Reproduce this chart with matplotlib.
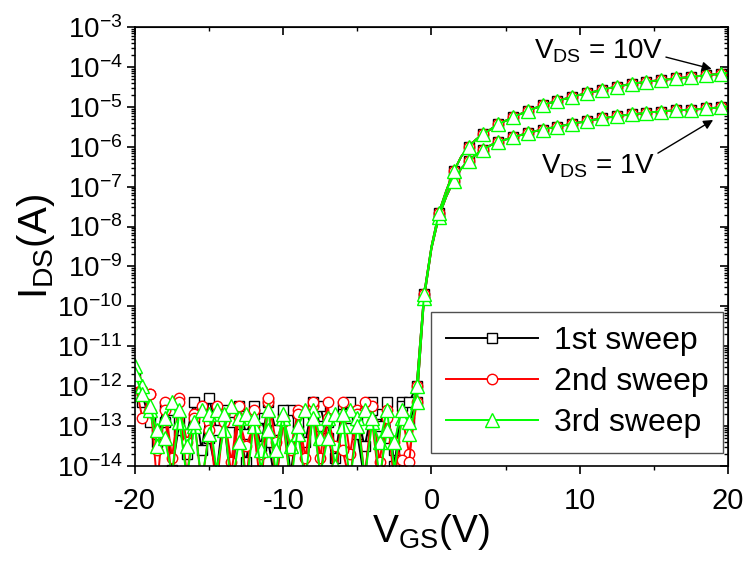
import matplotlib
matplotlib.use('Agg')
import matplotlib.pyplot as plt
import numpy as np

plt.rcParams['font.family'] = ['Liberation Sans', 'DejaVu Sans']
plt.rcParams['mathtext.fontset'] = 'custom'
plt.rcParams['mathtext.rm'] = 'Liberation Sans'
plt.rcParams['mathtext.it'] = 'Liberation Sans'
plt.rcParams['axes.unicode_minus'] = False

# gate voltage sweep (V)
vgs_off = np.arange(-20, -1.0, 0.5)      # -20 ... -1.5
vgs_on = np.arange(-1.0, 20.5, 0.5)      # -1 ... 20

# log10(I_DS) in the off state, per sweep and V_DS
off_s1_v1 = [-12.0, -12.4, -12.7, -13.4, -12.9, -12.6, -13.1, -13.7, -12.8, -12.5,
             -13.3, -14.2, -12.6, -12.9, -13.2, -13.9, -12.5, -12.8, -13.4, -14.5,
             -12.8, -12.6, -13.1, -14.3, -12.7, -12.5, -13.3, -13.8, -12.5, -12.8,
             -13.2, -14.4, -12.4, -12.7, -13.3, -13.6, -12.4, -12.9]
off_s1_v10 = [-11.8, -12.2, -12.9, -13.2, -12.5, -14.1, -12.9, -13.2, -12.4, -13.6,
              -12.3, -13.1, -12.8, -14.6, -12.5, -13.2, -12.7, -13.5, -12.4, -13.1,
              -12.6, -14.2, -12.9, -13.4, -12.4, -13.0, -12.9, -14.5, -12.7, -12.4,
              -12.8, -13.5, -12.6, -13.0, -12.4, -14.0, -12.5, -12.4]
off_s2_v1 = [-11.8, -12.1, -12.2, -14.5, -12.4, -13.8, -12.3, -14.3, -12.7, -12.5,
             -12.9, -14.6, -12.7, -13.9, -12.5, -14.4, -12.6, -13.7, -12.4, -14.5,
             -12.8, -13.6, -12.6, -14.4, -12.5, -13.8, -12.4, -14.6, -12.4, -13.7,
             -12.6, -14.3, -12.5, -13.9, -12.6, -14.5, -12.7, -13.7]
off_s2_v10 = [-11.9, -12.8, -12.2, -13.6, -12.6, -14.4, -12.4, -13.4, -12.8, -14.5,
              -13.1, -12.5, -12.9, -14.2, -12.8, -13.5, -13.0, -14.6, -12.3, -13.4,
              -12.9, -14.5, -12.7, -13.8, -12.4, -14.3, -12.8, -13.5, -13.6, -14.4,
              -12.7, -12.4, -12.9, -14.5, -12.8, -13.4, -13.85, -13.9]
off_s3_v1 = [-11.5, -12.0, -12.6, -13.5, -12.8, -12.4, -12.9, -14.3, -13.0, -12.6,
             -12.7, -14.1, -13.1, -12.5, -12.8, -14.5, -13.0, -13.6, -12.6, -14.2,
             -12.8, -13.5, -13.2, -14.4, -12.6, -13.3, -12.8, -14.0, -13.0, -12.6,
             -12.8, -14.3, -12.9, -13.4, -12.6, -14.1, -12.8, -13.2]
off_s3_v10 = [-11.7, -12.2, -12.5, -13.1, -13.3, -14.2, -12.6, -13.5, -12.9, -14.4,
              -13.2, -12.6, -12.7, -14.6, -13.4, -12.7, -12.8, -14.1, -13.1, -13.6,
              -12.7, -14.5, -13.0, -12.6, -12.8, -14.2, -13.3, -12.7, -12.7, -14.4,
              -13.0, -12.6, -12.8, -14.3, -13.1, -13.4, -12.6, -12.9]

# log10(I_DS) in the on state (the three sweeps overlap)
on_v1 = [-12.4, -9.8, -8.55, -7.75, -7.25, -6.85, -6.55, -6.35, -6.2, -6.07,
         -5.96, -5.88, -5.82, -5.76, -5.71, -5.66, -5.61, -5.57, -5.53, -5.5,
         -5.46, -5.42, -5.39, -5.36, -5.32, -5.29, -5.26, -5.24, -5.21, -5.19,
         -5.17, -5.15, -5.13, -5.12, -5.1, -5.09, -5.08, -5.07, -5.06, -5.04,
         -5.03, -5.01, -4.99]
on_v10 = [-12.0, -9.7, -8.5, -7.65, -7.1, -6.62, -6.25, -6.0, -5.82, -5.68,
          -5.56, -5.44, -5.35, -5.26, -5.18, -5.1, -5.03, -4.96, -4.9, -4.85,
          -4.8, -4.75, -4.7, -4.66, -4.62, -4.57, -4.53, -4.5, -4.46, -4.42,
          -4.4, -4.37, -4.35, -4.33, -4.31, -4.29, -4.27, -4.25, -4.23, -4.21,
          -4.19, -4.17, -4.15]

sweeps = [
    ('1st sweep', 'black', 's', 6.5, off_s1_v1, off_s1_v10),
    ('2nd sweep', 'red', 'o', 7.5, off_s2_v1, off_s2_v10),
    ('3rd sweep', '#00ff00', '^', 9.5, off_s3_v1, off_s3_v10),
]

x_major = [-20, -10, 0, 10, 20]
x_minor = [-15, -5, 5, 15]
y_major = 10.0 ** np.arange(-14, -2)
y_minor = np.concatenate([m * 10.0 ** np.arange(-14, -3) for m in range(2, 10)])

vgs = np.concatenate([vgs_off, vgs_on])
n_off = len(vgs_off)
# every point marked in the off state, every second point in the on state
mark_idx = list(range(n_off + 1)) + list(range(n_off + 1, len(vgs), 2))

fig = plt.figure(figsize=(7.47, 5.66), dpi=100)
ax = fig.add_axes([0.1807, 0.1767, 0.7938, 0.7756])

for label, color, marker, ms, off_v1, off_v10 in sweeps:
    for k, (off, on) in enumerate([(off_v1, on_v1), (off_v10, on_v10)]):
        ids = 10 ** np.concatenate([off, on])
        ax.plot(vgs, ids, color=color, lw=1.4, marker=marker, ms=ms,
                mfc='white', mec=color, mew=1.0, markevery=mark_idx,
                label=label if k == 0 else None)

ax.set_yscale('log')
ax.set_xlim(-20, 20)
ax.set_ylim(1e-14, 1e-3)
ax.set_xticks(x_major)
ax.set_xticks(x_minor, minor=True)
ax.set_yticks(y_major)
ax.set_yticks(y_minor, minor=True)
ax.yaxis.set_minor_formatter(matplotlib.ticker.NullFormatter())

for s in ax.spines.values():
    s.set_linewidth(1.2)
ax.tick_params(which='major', direction='out', length=6, width=1.2)
ax.tick_params(which='minor', direction='out', length=3, width=1.0)
ax.tick_params(axis='x', which='major', labelsize=21, pad=9)
ax.tick_params(axis='y', which='major', labelsize=20, pad=3)
ax.tick_params(which='both', top=False, right=False)

# mirrored inward ticks on top and right
ax2 = ax.secondary_xaxis('top')
ax2.set_xticks(x_major)
ax2.set_xticks(x_minor, minor=True)
ax2.tick_params(which='major', direction='in', length=6, width=1.2, labeltop=False)
ax2.tick_params(which='minor', direction='in', length=3, width=1.0)
ay2 = ax.secondary_yaxis('right')
ay2.set_yticks(y_major)
ay2.set_yticks(y_minor, minor=True)
ay2.tick_params(which='major', direction='in', length=6, width=1.2, labelright=False)
ay2.tick_params(which='minor', direction='in', length=3, width=1.0, labelright=False)

ax.set_xlabel(r'V$_{\mathregular{GS}}$(V)', fontsize=28, labelpad=-2)
ax.set_ylabel(r'I$_{\mathregular{DS}}$(A)', fontsize=29, labelpad=0)

ax.annotate(r'V$_{\mathregular{DS}}$ = 10V', xy=(18.9, 10 ** -4.05), xytext=(6.9, 10 ** -3.78),
            fontsize=20, ha='left', va='baseline',
            arrowprops=dict(arrowstyle='-|>', color='black', lw=1.0, mutation_scale=14,
                            shrinkA=0, shrinkB=0, relpos=(1.0, 0.3)))
ax.annotate(r'V$_{\mathregular{DS}}$ = 1V', xy=(19.0, 10 ** -5.33), xytext=(7.4, 10 ** -6.66),
            fontsize=20, ha='left', va='baseline',
            arrowprops=dict(arrowstyle='-|>', color='black', lw=1.0, mutation_scale=14,
                            shrinkA=0, shrinkB=0, relpos=(1.0, 0.9)))

leg = ax.legend(loc='lower right', bbox_to_anchor=(0.992, 0.03), borderaxespad=0,
                fontsize=23, handlelength=2.9, handletextpad=0.5, labelspacing=0.35,
                borderpad=0.45, fancybox=False, framealpha=1, edgecolor='#505050')
leg.get_frame().set_linewidth(1.0)

plt.savefig('out.png', dpi=100)
plt.close()
